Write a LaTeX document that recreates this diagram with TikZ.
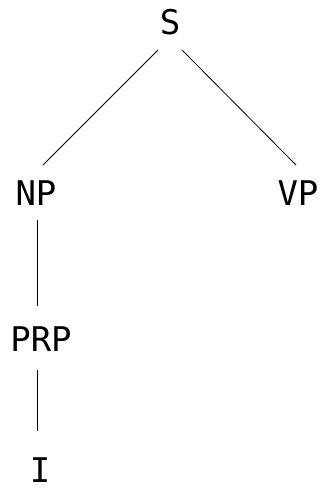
\documentclass[tikz,border=0pt]{standalone}
\usepackage{fontspec}
\setmonofont{DejaVu Sans Mono}
\begin{document}
\begin{tikzpicture}[x=1pt,y=-1pt,
  lbl/.style={inner sep=0pt,anchor=base,font=\ttfamily\fontsize{34}{38}\selectfont},
  edge/.style={line width=0.8pt}]
\useasboundingbox (0,0) rectangle (324,488);
\node[lbl] (S) at (170,34) {S};
\node[lbl] (NP) at (36,205) {NP};
\node[lbl] (VP) at (298,205) {VP};
\node[lbl] (PRP) at (41,351) {PRP};
\node[lbl] (I) at (40,482) {I};
\coordinate (s1) at (158,50);
\coordinate (np1) at (43,165);
\coordinate (s2) at (182,50);
\coordinate (vp1) at (296,165);
\coordinate (np2) at (37.5,220);
\coordinate (prp1) at (37.5,306);
\coordinate (prp2) at (37.5,370);
\coordinate (i1) at (37.5,431);
\draw[edge] (s1) -- (np1);
\draw[edge] (s2) -- (vp1);
\draw[edge] (np2) -- (prp1);
\draw[edge] (prp2) -- (i1);
\end{tikzpicture}
\end{document}
